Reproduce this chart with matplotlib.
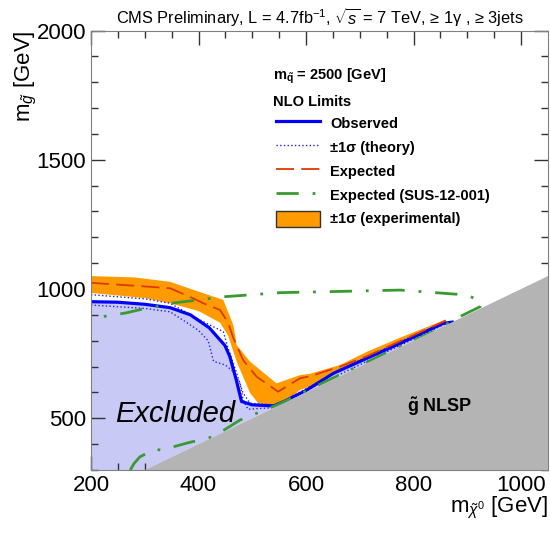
import matplotlib
matplotlib.use("Agg")
import matplotlib.pyplot as plt
from matplotlib.lines import Line2D
from matplotlib.patches import Patch

plt.rcParams['font.family'] = ['Liberation Sans', 'DejaVu Sans']
plt.rcParams['mathtext.fontset'] = 'custom'
plt.rcParams['mathtext.rm'] = 'Liberation Sans'
plt.rcParams['mathtext.it'] = 'Liberation Sans:italic'
plt.rcParams['mathtext.bf'] = 'Liberation Sans:bold'

# observed limit (solid blue)
obs_x = [200, 250, 300, 347, 385, 420, 449, 458, 470, 480, 500, 540, 560, 601, 651, 775, 855, 872]
obs_y = [951, 949, 941, 928, 900, 850, 782, 740, 650, 565, 552, 548, 566, 609, 674, 790, 867, 872]

# +-1 sigma theory (dotted blue)
thup_x = [200, 300, 347, 403, 446, 455, 471, 483, 496, 545, 607, 663, 775, 860]
thup_y = [978, 962, 945, 880, 835, 771, 674, 597, 558, 551, 622, 688, 797, 872]
thdn_x = [200, 300, 347, 365, 400, 418, 428, 450, 465, 477, 483, 492, 530, 607, 775, 860]
thdn_y = [938, 925, 912, 888, 840, 800, 720, 706, 680, 635, 571, 535, 540, 614, 782, 866]

# expected limit (red dashed)
exp_x = [200, 300, 347, 384, 409, 440, 455, 465, 483, 508, 548, 589, 607, 663, 713, 794, 860]
exp_y = [1024, 1010, 1003, 970, 945, 919, 870, 809, 725, 661, 603, 655, 662, 700, 740, 816, 878]

# +-1 sigma experimental band (orange)
bup_x = [200, 280, 347, 365, 400, 446, 465, 471, 496, 545, 589, 607, 663, 713, 775, 860]
bup_y = [1050, 1045, 1028, 1015, 990, 958, 859, 783, 719, 635, 667, 672, 706, 757, 812, 882]
bdn_x = [200, 300, 347, 400, 440, 455, 471, 496, 511, 540, 570, 589, 607, 663, 775, 860]
bdn_y = [985, 965, 945, 915, 870, 820, 719, 597, 559, 548, 577, 610, 622, 680, 788, 872]

# expected SUS-12-001 (green dash-dot)
sus_x = [273, 280, 291, 310, 320, 330, 345, 380, 428, 477, 545, 614, 682, 775, 837, 880,
         924, 927, 899, 775, 645, 552, 446, 409, 353, 322, 297, 266, 241, 200]
sus_y = [300, 325, 351, 371, 382, 376, 385, 405, 429, 493, 551, 620, 687, 777, 835, 887,
         932, 951, 977, 996, 990, 986, 970, 960, 946, 932, 923, 908, 899, 887]

# gluino NLSP region: m_gluino < m_neutralino
diag = [300, 1050]

fig = plt.figure(figsize=(5.5, 5.33), dpi=100)
ax = fig.add_axes([91/550, 1-470/533, 457/550, 439.5/533])

# excluded region
ex_x = [200] + obs_x + [300, 200]
ex_y = [300] + obs_y + [300, 300]
ax.fill(ex_x, ex_y, color='#c9c9f6', lw=0, zorder=1)
ax.fill(bup_x + bdn_x[::-1], bup_y + bdn_y[::-1], color='#ff9a00', lw=0, zorder=2)

ax.plot(thup_x, thup_y, color='#2020ee', ls=':', lw=1.0, zorder=4)
ax.plot(thdn_x, thdn_y, color='#2020ee', ls=':', lw=1.0, zorder=4)
ax.plot(obs_x, obs_y, color='#0000ff', lw=2.3, zorder=5)
ax.plot(exp_x, exp_y, color='#dd3a00', lw=1.3, dashes=(10, 4), zorder=5)
ax.plot(sus_x, sus_y, color='#3a9a32', lw=2.0, dashes=(8, 5, 1, 5), zorder=6)

ax.fill([diag[0], diag[1], diag[1]], [diag[0], diag[1], diag[0]], color='#b4b4b4', lw=0, zorder=7)

ax.text(245, 487, 'Excluded', fontsize=21, style='italic', zorder=8)
ax.text(787, 525, r'$\mathbf{\tilde{g}}$ NLSP', fontsize=13, fontweight='bold', zorder=8)

ax.set_xlim(200, 1050)
ax.set_ylim(300, 2000)
ax.set_xticks([200, 400, 600, 800, 1000])
ax.set_yticks([500, 1000, 1500, 2000])
ax.set_xticks(range(250, 1050, 50), minor=True)
ax.set_yticks(range(300, 2000, 100), minor=True)
ax.tick_params(which='both', direction='in', top=True, right=True, labelsize=16, color='#333333')
ax.tick_params(which='major', length=10, width=1)
ax.tick_params(which='minor', length=5, width=1)
for s in ax.spines.values():
    s.set_color('#808080')
    s.set_zorder(9)

fig.text(548/550, 1-512/533, r'm$_{\tilde{\chi}^0}$ [GeV]', fontsize=16, ha='right', va='baseline')
fig.text(26/550, 1-30/533, r'm$_{\tilde{g}}$ [GeV]', fontsize=16, rotation=90, ha='center', va='top')
fig.text(320/550, 1-24/533, r'CMS Preliminary, L = 4.7fb$^{-1}$, $\sqrt{s}$ = 7 TeV, ≥ 1γ , ≥ 3jets',
         fontsize=11.8, ha='center', va='baseline')

# legend block
fig.text(273/550, 1-80/533, r'$\mathbf{m_{\tilde{q}}}$ = 2500 [GeV]', fontsize=10.5, fontweight='bold', va='baseline')
fig.text(273/550, 1-106/533, 'NLO Limits', fontsize=10.5, fontweight='bold', va='baseline')
handles = [
    Line2D([], [], color='#0000ff', lw=2.3),
    Line2D([], [], color='#2020ee', ls=':', lw=1.0),
    Line2D([], [], color='#dd3a00', lw=1.3, dashes=(10, 4)),
    Line2D([], [], color='#3a9a32', lw=2.0, dashes=(8, 5, 1, 5)),
    Patch(facecolor='#ff9a00', edgecolor='#333333', lw=1),
]
labels = ['Observed', '±1σ (theory)', 'Expected', 'Expected (SUS-12-001)', '±1σ (experimental)']
leg = fig.legend(handles, labels, loc='upper left', bbox_to_anchor=(276/550, 1-115/533),
                 frameon=False, borderpad=0, borderaxespad=0, handlelength=3.0, handleheight=1.3,
                 handletextpad=0.7, labelspacing=0.55, prop={'size': 10.5, 'weight': 'bold'})

fig.savefig('out.png', dpi=100)
